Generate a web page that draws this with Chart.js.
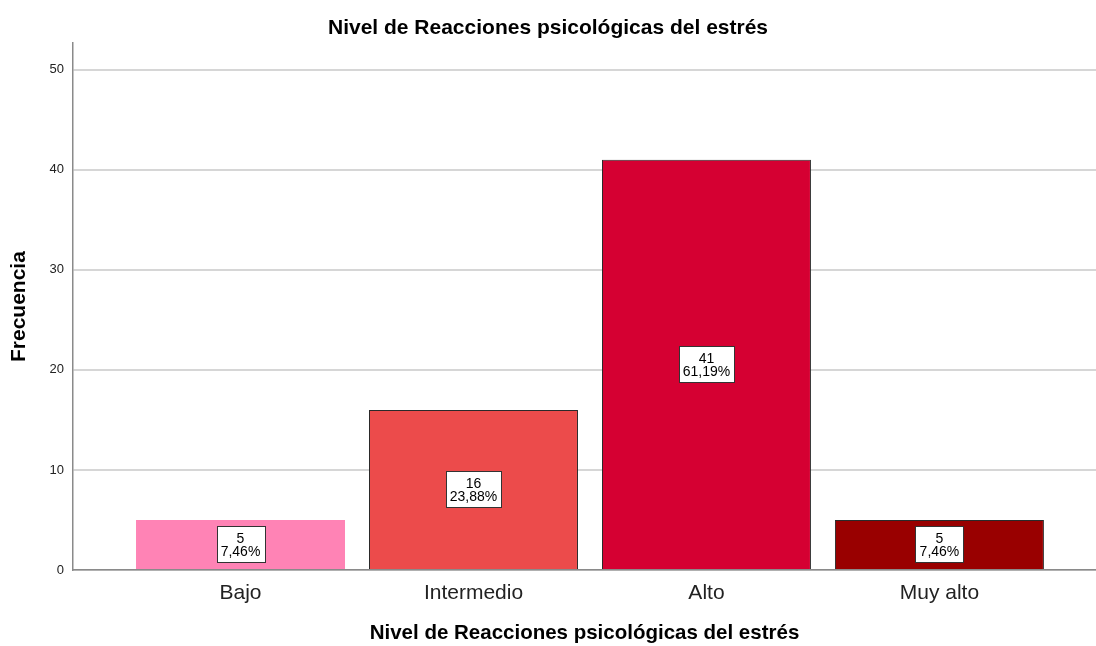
<!DOCTYPE html>
<html>
<head>
<meta charset="utf-8">
<script src="https://cdn.jsdelivr.net/npm/chart.js@4/dist/chart.umd.min.js"></script>
<style>
  html, body { margin: 0; padding: 0; background: #fff; }
  #wrap { width: 1096px; height: 646px; }
</style>
</head>
<body>
<div id="wrap"><canvas id="c" width="1096" height="646"></canvas></div>
<script>
const categories = ['Bajo', 'Intermedio', 'Alto', 'Muy alto'];
const counts = [5, 16, 41, 5];
const percents = ['7,46%', '23,88%', '61,19%', '7,46%'];
const yTicks = [0, 10, 20, 30, 40, 50];
const barColors = ['#FF83B5', '#EC4B4B', '#D50032', '#990000'];
const barBorders = ['#FF83B5', '#2a2a2a', '#2a2a2a', '#2a2a2a'];

const FONT = "'Liberation Sans', Arial, sans-serif";

const labelPlugin = {
  id: 'boxLabels',
  afterDatasetsDraw(chart) {
    const ctx = chart.ctx;
    const meta = chart.getDatasetMeta(0);
    ctx.save();
    ctx.font = '14px ' + FONT;
    ctx.textAlign = 'center';
    ctx.textBaseline = 'middle';
    meta.data.forEach((el, i) => {
      const cx = el.x;
      const cy = (el.y + el.base) / 2;
      const l1 = String(counts[i]);
      const l2 = percents[i];
      const w = Math.round(Math.max(ctx.measureText(l1).width, ctx.measureText(l2).width) + 8);
      const h = 36;
      const x0 = Math.round(cx - w / 2) + 0.5;
      const y0 = Math.round(cy - h / 2) + 0.5;
      ctx.fillStyle = '#ffffff';
      ctx.fillRect(x0, y0, w, h);
      ctx.strokeStyle = '#333333';
      ctx.lineWidth = 1;
      ctx.strokeRect(x0, y0, w, h);
      ctx.fillStyle = '#000000';
      ctx.fillText(l1, cx, cy - 5.5);
      ctx.fillText(l2, cx, cy + 8);
    });
    ctx.restore();
  }
};

new Chart(document.getElementById('c'), {
  type: 'bar',
  data: {
    datasets: [{
      data: counts.map((v, i) => ({ x: i, y: v })),
      backgroundColor: barColors,
      borderColor: barBorders,
      borderWidth: 1,
      categoryPercentage: 1,
      barPercentage: 0.897
    }]
  },
  options: {
    responsive: false,
    animation: false,
    layout: { padding: { left: 0, right: 0, top: 0, bottom: 0 } },
    plugins: {
      legend: { display: false },
      tooltip: { enabled: false },
      title: {
        display: true,
        text: 'Nivel de Reacciones psicológicas del estrés',
        color: '#000',
        font: { family: FONT, size: 21, weight: 'bold' },
        padding: { top: 16, bottom: 2 }
      }
    },
    scales: {
      x: {
        type: 'linear',
        offset: false,
        bounds: 'data',
        min: -0.719,
        max: 3.672,
        afterBuildTicks(scale) { scale.ticks = categories.map((c, i) => ({ value: i })); },
        ticks: {
          callback: (v) => categories[v] !== undefined ? categories[v] : '',
          color: '#222',
          font: { family: FONT, size: 21 },
          padding: 11,
          maxRotation: 0,
          autoSkip: false
        },
        grid: { display: false, drawTicks: false, offset: false },
        border: { display: true, color: '#8a8a8a', width: 1.5 },
        title: {
          display: true,
          text: 'Nivel de Reacciones psicológicas del estrés',
          color: '#000',
          font: { family: FONT, size: 20.5, weight: 'bold' },
          padding: { top: 0, bottom: 0 }
        },
        afterFit(scale) { scale.height = 76; }
      },
      y: {
        min: 0,
        max: 52.65,
        afterBuildTicks(scale) { scale.ticks = yTicks.map(v => ({ value: v })); },
        ticks: {
          color: '#222',
          font: { family: FONT, size: 13 },
          padding: 9
        },
        grid: { color: '#d6d6d6', lineWidth: 2, drawTicks: false },
        border: { display: true, color: '#8a8a8a', width: 1.5 },
        title: {
          display: true,
          text: 'Frecuencia',
          color: '#000',
          font: { family: FONT, size: 21, weight: 'bold' },
          padding: { top: 7, bottom: 0 }
        },
        afterFit(scale) { scale.width = 73; }
      }
    }
  },
  plugins: [labelPlugin]
});
</script>
</body>
</html>
